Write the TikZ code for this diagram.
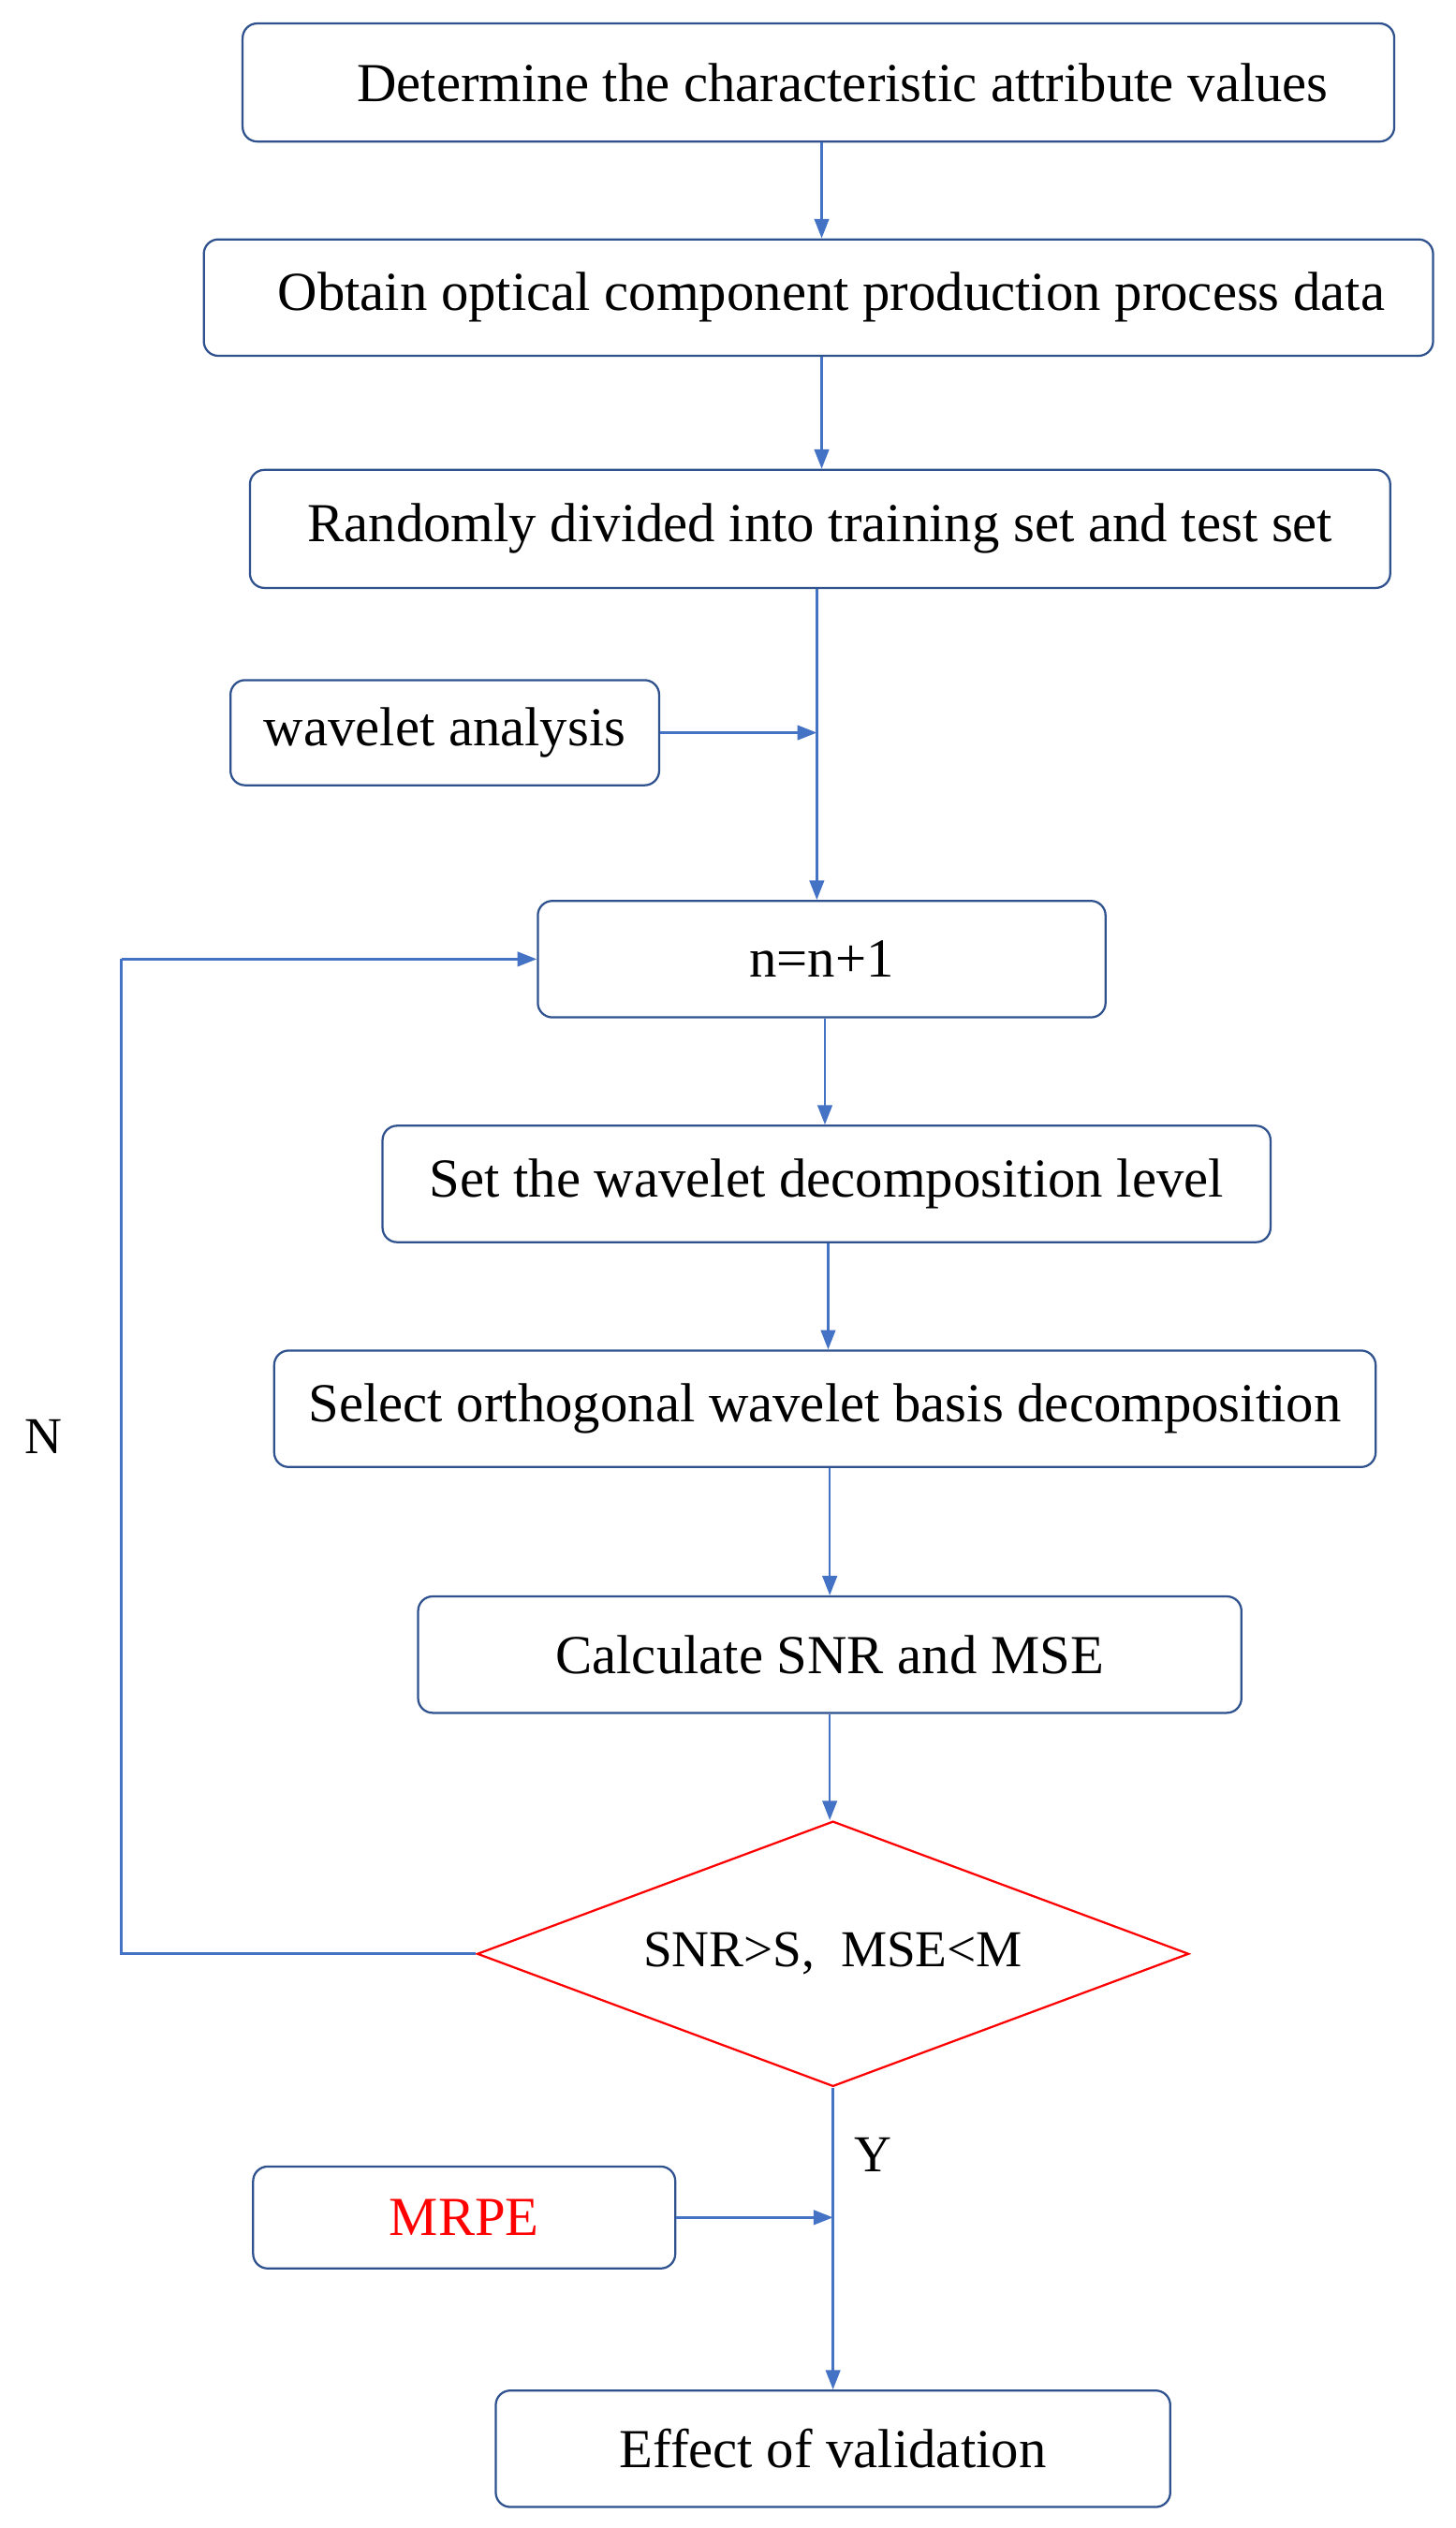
\documentclass[tikz,border=0pt]{standalone}
\usepackage{fontspec}
\setmainfont{Liberation Serif}
\usetikzlibrary{shapes.geometric,arrows.meta}
\definecolor{bd}{RGB}{47,82,143}
\definecolor{ar}{RGB}{68,114,196}
\begin{document}
\begin{tikzpicture}[x=1pt,y=-1pt,
 box/.style={draw=bd,line width=1.3pt,rounded corners=9pt,inner sep=0pt,font=\fontsize{34}{38}\selectfont},
 arr/.style={draw=ar,line width=1.5pt,-{Triangle[length=12pt,width=9pt]}},
 ln/.style={draw=ar,line width=1.5pt}]
\useasboundingbox (0,0) rectangle (900,1563);
\fill[white] (0,0) rectangle (900,1563);
\node[box,minimum width=712pt,minimum height=73pt] (b1) at (506,51) {\hspace*{30pt}Determine the characteristic attribute values};
\node[box,minimum width=760pt,minimum height=72pt] (b2) at (506,184) {\hspace*{16pt}Obtain optical component production process data};
\node[box,minimum width=705pt,minimum height=73pt] (b3) at (507,327) {Randomly divided into training set and test set};
\node[box,minimum width=265pt,minimum height=65pt] (b4) at (275,453) {wavelet analysis};
\node[box,minimum width=351pt,minimum height=72pt] (b5) at (508,593) {n=n+1};
\node[box,minimum width=549pt,minimum height=72pt] (b6) at (511,732) {Set the wavelet decomposition level};
\node[box,minimum width=681pt,minimum height=72pt] (b7) at (510,871) {Select orthogonal wavelet basis decomposition};
\node[box,minimum width=509pt,minimum height=72pt] (b8) at (513,1023) {Calculate SNR and MSE};
\node[draw=red,line width=1.3pt,diamond,aspect=2.68,minimum width=440pt,minimum height=164pt,inner sep=0pt,font=\fontsize{32}{36}\selectfont] (d) at (515,1208) {SNR>S,\ \ MSE<M};
\node[box,minimum width=261pt,minimum height=63pt,text=red] (b10) at (287,1371) {MRPE};
\node[box,minimum width=417pt,minimum height=72pt] (b11) at (515,1514) {Effect of validation};
\draw[arr] (b1.south -| 508,0) -- (b2.north -| 508,0);
\draw[arr] (b2.south -| 508,0) -- (b3.north -| 508,0);
\draw[arr] (b3.south -| 505,0) -- (b5.north -| 505,0);
\coordinate (j1) at (505,453);
\draw[arr] (b4.east) -- (j1);
\draw[arr] (b5.south -| 510,0) -- (b6.north -| 510,0);
\draw[arr] (b6.south -| 512,0) -- (b7.north -| 512,0);
\draw[arr] (b7.south -| 513,0) -- (b8.north -| 513,0);
\draw[arr] (b8.south -| 513,0) -- (d.north -| 513,0);
\draw[arr] (d.south) -- (b11.north);
\draw[arr] (b10.east) -- (b10.east -| d.south);
\draw[ln] (d.west) -- (75,1208) -- (75,593);
\draw[arr] (75,593) -- (b5.west);
\node[font=\fontsize{32}{36}\selectfont] (n) at (27,888) {N};
\node[font=\fontsize{32}{36}\selectfont] (y) at (540,1332) {Y};
\end{tikzpicture}
\end{document}
